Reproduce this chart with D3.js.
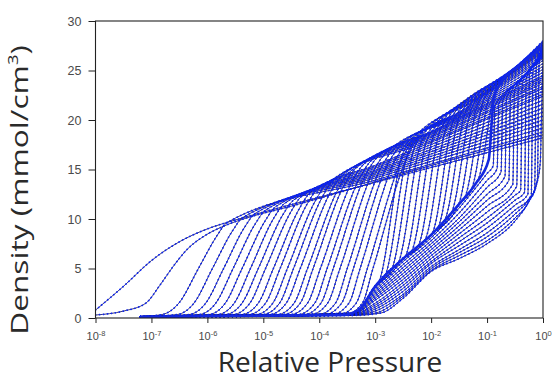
<!DOCTYPE html>
<html>
<head>
<meta charset="utf-8">
<script src="https://cdn.jsdelivr.net/npm/d3@7"></script>
<style>
  body { margin: 0; background: #fff; }
  text { font-family: "Liberation Sans", Arial, sans-serif; }
</style>
</head>
<body>
<svg id="chart" width="555" height="380"></svg>
<script>
// every point is [log10(P/P0), density in mmol/cm3]

// the two narrowest pores, filling before 1e-6
const smallPores = [
  [[-8,0.8],[-7.5,3.2],[-7,5.8],[-6.5,7.7],[-6,9.0],[-5.5,9.9],[-5,10.7],[-4,12.2],[-2,15.2],[0,18.2]],
  [[-8,0.3],[-7.5,0.7],[-7.1,1.5],[-6.85,3.3],[-6.6,5.3],[-6.35,7.0],[-6.05,8.3],[-5.7,9.3],[-5.3,10.1],[-4.5,11.3],[-2,15.4],[0,18.5]]
];

// pores that fill between 1e-6 and 1e-3
const mediumPores = [
  [[-7.2,0.15],[-6.81,0.35],[-6.51,1.5],[-6.16,5],[-5.83,8.3],[-5.65,9.63],[-3,13.93],[0,18.8]],
  [[-7.2,0.15],[-6.54,0.35],[-6.24,1.5],[-5.91,5],[-5.55,8.81],[-5.37,10.14],[-3,14.14],[0,19.2]],
  [[-7.2,0.15],[-6.33,0.35],[-6.03,1.5],[-5.71,5],[-5.33,9.21],[-5.15,10.54],[-3,14.32],[0,19.6]],
  [[-7.2,0.15],[-6.15,0.35],[-5.85,1.5],[-5.54,5],[-5.14,9.55],[-4.96,10.89],[-3,14.49],[0,20.0]],
  [[-7.2,0.15],[-5.98,0.35],[-5.68,1.5],[-5.38,5],[-4.96,9.88],[-4.78,11.24],[-3,14.65],[0,20.4]],
  [[-7.2,0.15],[-5.82,0.35],[-5.52,1.5],[-5.23,5],[-4.80,10.21],[-4.62,11.57],[-3,14.8],[0,20.8]],
  [[-7.2,0.15],[-5.68,0.35],[-5.38,1.5],[-5.09,5],[-4.64,10.53],[-4.46,11.9],[-3,14.94],[0,21.2]],
  [[-7.2,0.15],[-5.54,0.35],[-5.24,1.5],[-4.96,5],[-4.50,10.8],[-4.32,12.27],[-3,15.12],[0,21.6]],
  [[-7.2,0.15],[-5.39,0.35],[-5.09,1.5],[-4.82,5],[-4.34,11.21],[-4.16,12.68],[-3,15.28],[0,22.0]],
  [[-7.2,0.15],[-5.26,0.35],[-4.96,1.5],[-4.70,5],[-4.21,11.58],[-4.03,13.04],[-3,15.42],[0,22.4]],
  [[-7.2,0.15],[-5.13,0.35],[-4.83,1.5],[-4.57,5],[-4.06,11.94],[-3.88,13.46],[-2,17.89],[0,22.6]],
  [[-7.2,0.15],[-5.01,0.35],[-4.71,1.5],[-4.46,5],[-3.94,12.28],[-3.76,13.82],[-2,18.07],[0,22.9]],
  [[-7.2,0.15],[-4.89,0.35],[-4.59,1.5],[-4.34,5],[-3.80,12.7],[-3.62,14.24],[-2,18.25],[0,23.2]],
  [[-7.2,0.15],[-4.75,0.35],[-4.45,1.5],[-4.21,5],[-3.65,13.14],[-3.47,14.68],[-2,18.38],[0,23.4]],
  [[-7.2,0.15],[-4.64,0.35],[-4.34,1.5],[-4.11,5],[-3.55,13.47],[-3.37,15.0],[-2,18.53],[0,23.7]],
  [[-7.2,0.15],[-4.51,0.35],[-4.21,1.5],[-3.98,5],[-3.40,13.91],[-3.22,15.45],[-2,18.65],[0,23.9]],
  [[-7.2,0.15],[-4.38,0.35],[-4.08,1.5],[-3.86,5],[-3.26,14.32],[-3.08,15.85],[-2,18.75],[0,24.1]],
  [[-7.2,0.15],[-4.27,0.35],[-3.97,1.5],[-3.75,5],[-3.15,14.67],[-2.97,16.19],[-2,18.83],[0,24.3]],
  [[-7.2,0.15],[-4.15,0.35],[-3.85,1.5],[-3.63,5],[-3.01,15.07],[-2.83,16.54],[-1.5,20.28],[0,24.5]],
  [[-7.2,0.15],[-4.01,0.35],[-3.71,1.5],[-3.50,5],[-2.87,15.45],[-2.69,16.91],[-1.5,20.4],[0,24.8]],
  [[-7.2,0.15],[-3.90,0.35],[-3.60,1.5],[-3.39,5],[-2.76,15.72],[-2.58,17.19],[-1.5,20.5],[0,25.1]],
  [[-7.2,0.15],[-3.77,0.35],[-3.47,1.5],[-3.27,5],[-2.63,16.06],[-2.45,17.56],[-1.5,20.6],[0,25.4]],
  [[-7.2,0.15],[-3.64,0.35],[-3.34,1.5],[-3.14,5],[-2.49,16.43],[-2.31,18.01],[-1.5,20.7],[0,25.7]],
  [[-7.2,0.15],[-3.53,0.35],[-3.23,1.5],[-3.04,5],[-2.39,16.74],[-2.21,18.33],[-1.5,20.79],[0,26.0]]
];

// the heavy ridge that the wider pores leave from
const ridgeLine = [[-7.2,0.12],[-3.6,0.3],[-3.3,0.8],[-3.0,3.2],[-2.5,6.0],[-2.0,8.4],[-1.5,11.5],
  [-1.2,13.6],[-0.97,16.0],[-0.92,19.5],[-0.88,22.3],[-0.75,23.8],[-0.4,25.6],[0,27.4]];

// curves that leave the ridge and climb steeply (first point lies on the ridge)
const steepPores = [
  [[-2.95,3.48],[-2.51,16.58],[-2.36,17.85],[-1.18,22.03],[0,26.2]],
  [[-2.83,4.15],[-2.405,16.9],[-2.25,18.2],[-1.125,22.3],[0,26.4]],
  [[-2.71,4.82],[-2.295,17.27],[-2.14,18.55],[-1.07,22.58],[0,26.6]],
  [[-2.59,5.5],[-2.185,17.62],[-2.03,18.9],[-1.015,22.85],[0,26.8]],
  [[-2.47,6.14],[-2.076,17.97],[-1.92,19.34],[-0.96,23.12],[0,26.9]],
  [[-2.35,6.72],[-1.962,18.37],[-1.81,19.8],[-0.905,23.4],[0,27.0]],
  [[-2.23,7.3],[-1.845,18.85],[-1.69,20.3],[-0.845,23.7],[0,27.1]],
  [[-2.11,7.87],[-1.727,19.35],[-1.57,20.81],[-0.785,24.0],[0,27.2]],
  [[-1.99,8.46],[-1.61,19.85],[-1.46,21.24],[-0.73,24.27],[0,27.3]],
  [[-1.87,9.21],[-1.5,20.3],[-1.35,21.64],[-0.675,24.5],[0,27.4]],
  [[-1.75,9.95],[-1.392,20.69],[-1.24,22.04],[-0.62,24.77],[0,27.5]],
  [[-1.63,10.69],[-1.283,21.09],[-1.13,22.43],[-0.565,25.0],[0,27.6]],
  [[-1.51,11.44],[-1.175,21.47],[-1.02,22.83],[-0.51,25.26],[0,27.7]],
  [[-1.39,12.27],[-1.07,21.86],[-0.92,23.2],[-0.46,25.5],[0,27.8]],
  [[-1.27,13.11],[-0.965,22.26],[-0.82,23.55],[-0.41,25.7],[0,27.9]],
  [[-1.15,14.12],[-0.867,22.61],[-0.72,23.9],[-0.36,25.95],[0,28.0]]
];

// wide pores: layering shoulder, then condensation close to saturation
const largePores = [
  [[-7.2,0.12],[-3.4,0.5],[-3.0,3.0],[-2.5,5.7],[-2.0,8.1],[-1.5,11.1],[-1.0,14.6],[-0.89,15.4],[-0.86,21.4],[-0.43,23.9],[0,26.4]],
  [[-7.2,0.12],[-3.4,0.5],[-3.0,2.8],[-2.5,5.4],[-2.0,7.8],[-1.5,10.6],[-1.0,13.9],[-0.82,15.1],[-0.79,21.65],[-0.395,24.1],[0,26.5]],
  [[-7.2,0.12],[-3.4,0.45],[-3.0,2.6],[-2.5,5.1],[-2.0,7.5],[-1.5,10.1],[-1.0,13.2],[-0.75,14.75],[-0.72,22.0],[-0.36,24.3],[0,26.6]],
  [[-7.2,0.12],[-3.4,0.45],[-3.0,2.4],[-2.5,4.8],[-2.0,7.2],[-1.5,9.7],[-1.0,12.5],[-0.68,14.3],[-0.65,22.35],[-0.325,24.5],[0,26.7]],
  [[-7.2,0.12],[-3.4,0.4],[-3.0,2.2],[-2.5,4.5],[-2.0,6.9],[-1.5,9.3],[-1.0,11.9],[-0.61,13.9],[-0.58,22.7],[-0.29,24.75],[0,26.8]],
  [[-7.2,0.12],[-3.4,0.4],[-3.0,2.0],[-2.5,4.2],[-2.0,6.6],[-1.5,8.9],[-1.0,11.3],[-0.54,13.5],[-0.51,23.0],[-0.255,24.95],[0,26.9]],
  [[-7.2,0.12],[-3.4,0.4],[-3.0,1.8],[-2.5,3.9],[-2.0,6.3],[-1.5,8.5],[-1.0,10.7],[-0.47,13.3],[-0.44,23.4],[-0.22,25.2],[0,27.0]],
  [[-7.2,0.12],[-3.4,0.35],[-3.0,1.5],[-2.5,3.6],[-2.0,6.0],[-1.5,8.1],[-1.0,10.1],[-0.5,12.4],[-0.40,12.9],[-0.37,23.8],[-0.185,25.45],[0,27.1]],
  [[-7.2,0.12],[-3.4,0.35],[-3.0,1.3],[-2.5,3.3],[-2.0,5.7],[-1.5,7.7],[-1.0,9.6],[-0.5,11.9],[-0.33,12.7],[-0.30,24.2],[-0.15,25.7],[0,27.2]],
  [[-7.2,0.12],[-3.4,0.3],[-3.0,1.1],[-2.5,3.0],[-2.0,5.5],[-1.5,7.3],[-1.0,9.1],[-0.5,11.4],[-0.27,12.5],[-0.24,24.6],[-0.12,25.95],[0,27.3]],
  [[-7.2,0.12],[-3.4,0.3],[-3.0,0.9],[-2.5,2.7],[-2.0,5.2],[-1.5,6.9],[-1.0,8.6],[-0.5,10.9],[-0.21,12.4],[-0.18,24.9],[-0.09,26.15],[0,27.4]],
  [[-7.2,0.12],[-3.4,0.3],[-3.0,0.7],[-2.5,2.4],[-2.0,5.0],[-1.5,6.6],[-1.0,8.2],[-0.5,10.5],[-0.25,12.0],[-0.15,13.0],[-0.12,25.3],[-0.06,26.4],[0,27.5]],
  [[-7.2,0.12],[-3.4,0.3],[-3.0,0.5],[-2.5,2.2],[-2.0,4.8],[-1.5,6.3],[-1.0,7.8],[-0.5,10.1],[-0.25,11.8],[-0.1,14.0],[-0.07,25.6],[0,27.6]],
  [[-7.2,0.12],[-3.4,0.25],[-2.9,0.5],[-2.5,2.0],[-2.0,4.7],[-1.5,6.0],[-1.0,7.5],[-0.5,9.8],[-0.25,11.8],[-0.12,13.4],[-0.05,15.6],[-0.02,22.0],[0,25.5]]
];

const yTicks = [0, 5, 10, 15, 20, 25, 30];
const xTickExp = [-8, -7, -6, -5, -4, -3, -2, -1, 0];

const plot = { left: 95.5, right: 543, top: 21, bottom: 318 };

const svg = d3.select("#chart");

const x = d3.scaleLog().domain([1e-8, 1]).range([plot.left, plot.right]);
const y = d3.scaleLinear().domain([0, 30]).range([plot.bottom, plot.top]);

const toP = pts => pts.map(p => [Math.pow(10, p[0]), p[1]]);

// steep curves run along the ridge until they branch off it
const steepFull = steepPores.map(c => ridgeLine.filter(r => r[0] < c[0][0]).concat(c));

const curves = [].concat(largePores, steepFull, mediumPores, smallPores);

const line = d3.line()
  .x(d => x(d[0]))
  .y(d => y(d[1]))
  .curve(d3.curveMonotoneX);

svg.append("clipPath").attr("id", "clip")
  .append("rect")
  .attr("x", plot.left).attr("y", plot.top - 2)
  .attr("width", plot.right - plot.left).attr("height", plot.bottom - plot.top + 2);

const g = svg.append("g").attr("clip-path", "url(#clip)");

// thin dark line with blue symbols on top
g.selectAll("path.base")
  .data(curves)
  .join("path")
  .attr("class", "base")
  .attr("d", c => line(toP(c)))
  .attr("fill", "none")
  .attr("stroke", "#161668")
  .attr("stroke-width", 0.85);

g.selectAll("path.sym")
  .data(curves)
  .join("path")
  .attr("class", "sym")
  .attr("d", c => line(toP(c)))
  .attr("fill", "none")
  .attr("stroke", "#0c24f0")
  .attr("stroke-width", 1.7)
  .attr("stroke-linecap", "round")
  .attr("stroke-dasharray", "0.2 3.8");

g.append("path")
  .attr("d", line(toP(ridgeLine)))
  .attr("fill", "none")
  .attr("stroke", "#1428e0")
  .attr("stroke-width", 2.6);

// frame
svg.append("rect")
  .attr("x", plot.left).attr("y", plot.top)
  .attr("width", plot.right - plot.left).attr("height", plot.bottom - plot.top)
  .attr("fill", "none")
  .attr("stroke", "#222")
  .attr("stroke-width", 1.1);

// y axis
const gy = svg.append("g")
  .attr("transform", `translate(${plot.left},0)`)
  .call(d3.axisLeft(y).tickValues(yTicks).tickSize(7).tickSizeOuter(0).tickPadding(7));
gy.select(".domain").remove();
gy.selectAll(".tick line").attr("stroke", "#222");
gy.selectAll(".tick text")
  .attr("fill", "#4a4a4a")
  .attr("font-size", 12.5)
  .style("font-family", "'Liberation Sans', Arial, sans-serif");

// x axis with 10^n labels
const gx = svg.append("g")
  .attr("transform", `translate(0,${plot.bottom})`)
  .call(d3.axisBottom(x).tickValues(xTickExp.map(e => Math.pow(10, e))).tickSize(5).tickSizeOuter(0).tickPadding(9));
gx.select(".domain").remove();
gx.selectAll(".tick line").attr("stroke", "#222");
gx.selectAll(".tick text").each(function(d, i) {
  const t = d3.select(this).text(null)
    .attr("fill", "#4a4a4a")
    .attr("font-size", 11)
    .style("font-family", "'Liberation Sans', Arial, sans-serif");
  t.append("tspan").text("10");
  t.append("tspan").attr("dy", -4).attr("font-size", 7.5).text(xTickExp[i]);
});

// axis titles
svg.append("text")
  .attr("x", 330).attr("y", 372)
  .attr("text-anchor", "middle")
  .attr("fill", "#2a2a2a")
  .attr("font-size", 28)
  .style("font-family", "'Open Sans', sans-serif")
  .text("Relative Pressure");

const yt = svg.append("text")
  .attr("transform", "translate(28,190) rotate(-90) scale(1.32,1)")
  .attr("text-anchor", "middle")
  .attr("fill", "#2a2a2a")
  .attr("font-size", 24)
  .style("font-family", "'Open Sans', sans-serif");
yt.append("tspan").text("Density (mmol/cm");
yt.append("tspan").attr("dy", -10).attr("font-size", 14).text("3");
yt.append("tspan").attr("dy", 10).text(")");
</script>
</body>
</html>
